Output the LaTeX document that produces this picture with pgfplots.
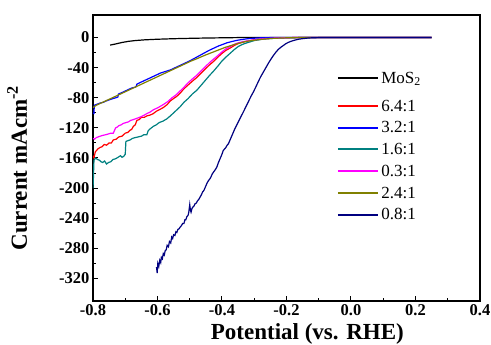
\documentclass[border=0pt]{standalone}
\usepackage{fontspec}
\setmainfont{Liberation Serif}
\usepackage{pgfplots}
\pgfplotsset{compat=1.18}
\definecolor{cteal}{RGB}{0,128,128}
\definecolor{colive}{RGB}{128,128,0}
\definecolor{cnavy}{RGB}{0,0,128}
\definecolor{cmag}{RGB}{255,0,255}
\pgfplotsset{
  mylegend/.style={
    legend style={draw=none, fill=none, anchor=north west,
      font=\fontsize{17}{17}\selectfont, row sep=4pt, inner sep=0pt,
      nodes={inner sep=2.5pt}},
    legend cell align=left,
    legend image code/.code={\draw[##1, line width=1.8pt] (0pt,0.3pt) -- (40pt,0.3pt);},
  }
}
\begin{document}
\begin{tikzpicture}
\begin{axis}[
  name=main,
  at={(0,0)}, anchor=south west,
  scale only axis,
  width=387pt, height=286pt,
  xmin=-0.8, xmax=0.4, ymin=-350, ymax=30,
  xtick={-0.8,-0.6,-0.4,-0.2,0,0.2,0.4},
  ytick={-320,-280,-240,-200,-160,-120,-80,-40,0},
  minor tick num=1,
  tick pos=left,
  tick align=inside,
  major tick length=5pt, minor tick length=3pt,
  axis line style={line width=1.3pt},
  every tick/.style={black, line width=1pt},
  /pgf/number format/assume math mode=true,
  ticklabel style={font=\bfseries\fontsize{16.5}{16.5}\selectfont},
  xticklabel style={/pgf/number format/.cd, fixed, fixed zerofill, precision=1},
  yticklabel style={/pgf/number format/.cd, fixed, precision=0},
  xlabel={Potential (vs. RHE)},
  ylabel={Current mAcm\textsuperscript{-2}},
  xlabel style={font=\bfseries\fontsize{23}{23}\selectfont, at={(axis description cs:0.554,-0.133)}, anchor=base},
  ylabel style={font=\bfseries\fontsize{23}{23}\selectfont, at={(axis description cs:-0.196,0.465)}, anchor=center, rotate=0},
  mylegend,
  legend style={at={(axis description cs:0.63,0.713)}},
  every axis plot/.append style={line width=1.2pt},
]
% MoS2
\addplot[black, forget plot] coordinates {
(-0.747,-10) (-0.73,-8.5) (-0.71,-6.5) (-0.69,-5) (-0.67,-4) (-0.64,-3) (-0.60,-2.2)
(-0.55,-1.5) (-0.50,-1) (-0.45,-0.6) (-0.40,-0.3) (-0.35,0) (0.25,0)};
% 6.4:1
\addplot[red] coordinates {
(-0.800,-157) (-0.797,-160) (-0.793,-152) (-0.789,-150) (-0.785,-148) (-0.778,-146)
(-0.772,-145) (-0.765,-142) (-0.758,-143) (-0.750,-140) (-0.743,-140) (-0.737,-136) (-0.728,-135) (-0.720,-132)
(-0.710,-131) (-0.700,-127) (-0.692,-126) (-0.685,-123) (-0.680,-122) (-0.675,-118) (-0.669,-116) (-0.664,-110) (-0.657,-109)
(-0.650,-106) (-0.641,-106) (-0.633,-104) (-0.623,-103) (-0.613,-101) (-0.604,-98) (-0.595,-96) (-0.582,-93)
(-0.570,-89) (-0.560,-84) (-0.550,-81) (-0.540,-78) (-0.530,-74) (-0.518,-68) (-0.505,-63) (-0.492,-58) (-0.478,-53)
(-0.464,-47) (-0.450,-41) (-0.438,-36) (-0.427,-32) (-0.413,-26) (-0.400,-21) (-0.388,-17) (-0.375,-14) (-0.362,-10.5)
(-0.350,-8) (-0.336,-6.2) (-0.323,-5) (-0.300,-3) (-0.272,-1.5) (-0.23,-0.5) (-0.18,0) (0.25,0)};
\addlegendentry{6.4:1}
% 3.2:1
\addplot[blue] coordinates {
(-0.800,-101) (-0.797,-101) (-0.796,-90) (-0.790,-89) (-0.784,-88) (-0.778,-87) (-0.768,-86) (-0.758,-84)
(-0.745,-82) (-0.730,-80) (-0.723,-79) (-0.721,-75) (-0.710,-73) (-0.700,-71) (-0.690,-69) (-0.680,-67)
(-0.670,-66) (-0.666,-65) (-0.664,-62) (-0.650,-59) (-0.635,-56) (-0.620,-53) (-0.605,-50) (-0.590,-47)
(-0.575,-45) (-0.560,-43) (-0.545,-40) (-0.530,-37) (-0.515,-34) (-0.500,-31) (-0.485,-27.5) (-0.470,-24)
(-0.455,-20.5) (-0.440,-17) (-0.425,-14) (-0.410,-11) (-0.397,-9) (-0.385,-7) (-0.370,-5.3) (-0.355,-3.8)
(-0.340,-2.7) (-0.320,-1.5) (-0.300,-0.8) (-0.28,-0.3) (-0.25,0) (0.25,0)};
\addlegendentry{3.2:1}
% 1.6:1
\addplot[cteal] coordinates {
(-0.800,-200) (-0.799,-190) (-0.797,-163) (-0.792,-160) (-0.786,-162) (-0.780,-163) (-0.775,-165) (-0.770,-166)
(-0.764,-164) (-0.758,-168) (-0.752,-166) (-0.745,-165) (-0.738,-162) (-0.730,-161) (-0.722,-159) (-0.715,-157)
(-0.710,-159) (-0.705,-158) (-0.700,-155) (-0.698,-138) (-0.692,-137) (-0.685,-136) (-0.678,-134) (-0.670,-133)
(-0.660,-132) (-0.650,-131) (-0.642,-129) (-0.633,-129) (-0.629,-124) (-0.625,-122) (-0.619,-120) (-0.613,-118)
(-0.604,-116) (-0.595,-113) (-0.583,-111) (-0.571,-108) (-0.560,-104) (-0.550,-100) (-0.540,-96) (-0.530,-92)
(-0.518,-86) (-0.505,-81) (-0.492,-75) (-0.478,-70) (-0.464,-63) (-0.450,-56) (-0.438,-50) (-0.427,-45)
(-0.413,-38) (-0.400,-31) (-0.388,-26) (-0.375,-21) (-0.362,-16) (-0.350,-12) (-0.336,-9) (-0.323,-7)
(-0.300,-4) (-0.272,-2) (-0.24,-1) (-0.20,-0.3) (-0.16,0) (0.25,0)};
\addlegendentry{1.6:1}
% 0.3:1
\addplot[cmag] coordinates {
(-0.800,-134) (-0.795,-135) (-0.790,-133) (-0.784,-132) (-0.778,-131) (-0.770,-130) (-0.760,-129) (-0.752,-128)
(-0.745,-127) (-0.737,-127) (-0.733,-123) (-0.730,-120) (-0.725,-119) (-0.720,-117) (-0.713,-116) (-0.706,-114)
(-0.698,-113) (-0.690,-112) (-0.683,-110) (-0.675,-109) (-0.662,-107) (-0.650,-105) (-0.641,-103) (-0.633,-101)
(-0.623,-99) (-0.613,-96) (-0.598,-93) (-0.582,-89) (-0.568,-85) (-0.555,-80) (-0.542,-76) (-0.530,-71)
(-0.518,-66) (-0.505,-60) (-0.492,-55) (-0.478,-50) (-0.464,-44) (-0.450,-38) (-0.438,-33) (-0.427,-29)
(-0.413,-24) (-0.400,-19) (-0.388,-15) (-0.375,-12) (-0.362,-9) (-0.350,-7) (-0.336,-5.5) (-0.323,-4.5)
(-0.300,-3) (-0.272,-1.5) (-0.23,-0.5) (-0.18,0) (0.25,0)};
\addlegendentry{0.3:1}
% 2.4:1
\addplot[colive] coordinates {
(-0.800,-93) (-0.790,-90) (-0.780,-88) (-0.770,-86) (-0.760,-84) (-0.750,-82) (-0.740,-80) (-0.730,-78)
(-0.720,-76) (-0.710,-74) (-0.700,-72) (-0.690,-70) (-0.680,-68) (-0.670,-66) (-0.660,-64) (-0.650,-62)
(-0.640,-60) (-0.630,-58) (-0.620,-56) (-0.610,-54) (-0.600,-52) (-0.585,-49) (-0.570,-46) (-0.555,-43)
(-0.540,-40) (-0.525,-37) (-0.510,-34) (-0.495,-31) (-0.480,-28.5) (-0.465,-25.7) (-0.450,-23) (-0.435,-20.5)
(-0.420,-18) (-0.405,-15.5) (-0.390,-13) (-0.375,-11) (-0.360,-9) (-0.345,-7.2) (-0.330,-5.5) (-0.315,-4.4)
(-0.300,-3.5) (-0.285,-2.7) (-0.270,-2) (-0.24,-1) (-0.20,-0.3) (-0.16,0) (0.25,0)};
\addlegendentry{2.4:1}
% 0.8:1
\addplot[cnavy] coordinates {
(-0.603,-305) (-0.601,-313) (-0.599,-300) (-0.596,-304) (-0.593,-296) (-0.590,-299) (-0.588,-292) (-0.585,-294)
(-0.582,-287) (-0.579,-289) (-0.576,-283) (-0.573,-282) (-0.570,-276) (-0.566,-278) (-0.563,-271) (-0.559,-273)
(-0.556,-265) (-0.553,-267) (-0.550,-262) (-0.546,-263) (-0.543,-258) (-0.540,-259) (-0.537,-255) (-0.533,-254)
(-0.530,-252) (-0.526,-250) (-0.522,-247) (-0.518,-247) (-0.515,-242) (-0.512,-242) (-0.509,-238) (-0.505,-236)
(-0.503,-232) (-0.500,-222) (-0.498,-229) (-0.496,-232) (-0.493,-227) (-0.490,-225) (-0.487,-224) (-0.484,-221)
(-0.480,-220) (-0.476,-217) (-0.472,-215) (-0.468,-212) (-0.464,-209) (-0.460,-205) (-0.456,-203) (-0.452,-199)
(-0.447,-194) (-0.442,-190) (-0.438,-188) (-0.434,-185) (-0.430,-181) (-0.425,-178) (-0.420,-175) (-0.416,-172)
(-0.411,-166) (-0.406,-161) (-0.401,-156) (-0.396,-150) (-0.392,-148) (-0.388,-146) (-0.384,-143) (-0.380,-141)
(-0.375,-136) (-0.370,-131) (-0.365,-126) (-0.360,-121) (-0.354,-116) (-0.347,-110) (-0.340,-104) (-0.334,-99)
(-0.326,-92) (-0.318,-85) (-0.310,-78) (-0.303,-72.5) (-0.295,-65.5) (-0.288,-59) (-0.280,-52) (-0.272,-46)
(-0.264,-40) (-0.256,-34) (-0.248,-28.5) (-0.241,-24) (-0.233,-19.5) (-0.226,-16) (-0.218,-13) (-0.210,-10.6)
(-0.203,-8.4) (-0.195,-6.5) (-0.187,-5.1) (-0.179,-4) (-0.170,-2.9) (-0.160,-2) (-0.148,-1.3) (-0.137,-0.8)
(-0.126,-0.4) (-0.115,-0.2) (-0.10,0) (0.25,0)};
\addlegendentry{0.8:1}
\end{axis}
\begin{axis}[
  at={(0,0)}, anchor=south west,
  scale only axis,
  width=387pt, height=286pt,
  xmin=-0.8, xmax=0.4, ymin=-350, ymax=30,
  hide axis,
  mylegend,
  legend style={at={(axis description cs:0.63,0.811)}},
]
\addlegendimage{black}
\addlegendentry{MoS\textsubscript{2}}
\end{axis}
\pgfresetboundingbox
\path[use as bounding box] (-93pt,-44pt) rectangle (398pt,301pt);
\end{tikzpicture}
\end{document}
